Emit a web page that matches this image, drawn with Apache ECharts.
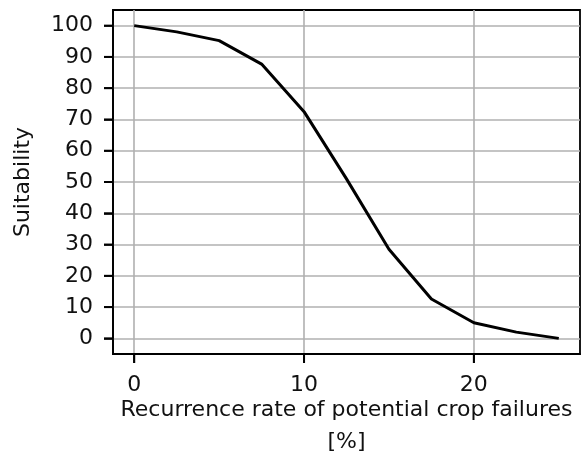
<!DOCTYPE html>
<html>
<head>
<meta charset="utf-8">
<script src="https://cdn.jsdelivr.net/npm/echarts@6/dist/echarts.min.js"></script>
<style>
  html, body { margin: 0; padding: 0; background: #fff; }
  #chart { width: 582px; height: 455px; }
</style>
</head>
<body>
<div id="chart"></div>
<script>
// Suitability as a function of the recurrence rate of potential crop failures
const recurrenceRate = [0, 2.5, 5, 7.5, 10, 12.5, 15, 17.5, 20, 22.5, 25];
const suitability = [100, 98, 95.2, 87.7, 72.5, 51, 28.5, 12.6, 5, 2, 0];
const xTicks = [0, 10, 20];
const yTicks = [0, 10, 20, 30, 40, 50, 60, 70, 80, 90, 100];
const xRange = [-1.25, 26.25];
const yRange = [-5, 105];

const font = 'DejaVu Sans';
const fs = 22;
const textColor = '#111';
const tickLen = 9;
const tickW = 2;
const chart = echarts.init(document.getElementById('chart'), null, { renderer: 'canvas' });

chart.setOption({
  animation: false,
  backgroundColor: '#fff',
  grid: {
    left: 113, top: 10, right: 2, bottom: 101,
    containLabel: false,
    outerBoundsMode: 'none',
    show: true, borderColor: '#000', borderWidth: 1.8, backgroundColor: 'transparent'
  },
  xAxis: {
    type: 'value',
    min: xRange[0], max: xRange[1],
    axisLine: { show: true, onZero: false, lineStyle: { color: '#000', width: 1.8 } },
    axisTick: { show: true, customValues: xTicks, length: tickLen, inside: false, lineStyle: { color: '#000', width: 1.6 } },
    axisLabel: { customValues: xTicks, margin: 20, fontFamily: font, fontSize: fs, color: textColor },
    splitLine: { show: true, lineStyle: { color: '#b0b0b0', width: 1.6 } },
    name: 'Recurrence rate of potential crop failures\n[%]',
    nameLocation: 'middle',
    nameGap: 40,
    nameMoveOverlap: false,
    nameTextStyle: { fontFamily: font, fontSize: fs, color: textColor, lineHeight: 32, verticalAlign: 'top' }
  },
  yAxis: {
    type: 'value',
    min: yRange[0], max: yRange[1],
    axisLine: { show: true, onZero: false, lineStyle: { color: '#000', width: 1.8 } },
    axisTick: { show: true, customValues: yTicks, length: tickLen, inside: false, lineStyle: { color: '#000', width: 1.6 } },
    axisLabel: { customValues: yTicks, margin: 20, fontFamily: font, fontSize: fs, color: textColor },
    splitLine: { show: true, lineStyle: { color: '#b0b0b0', width: 1.6 } },
    name: 'Suitability',
    nameLocation: 'middle',
    nameGap: 79,
    nameMoveOverlap: false,
    nameRotate: 90,
    nameTextStyle: { fontFamily: font, fontSize: fs, color: textColor }
  },
  series: [{
    type: 'line',
    data: recurrenceRate.map((x, i) => [x, suitability[i]]),
    showSymbol: false,
    lineStyle: { color: '#000', width: 3 },
    clip: false
  }]
});

// outward tick marks as small filled bars, positioned through the grid's own scales
const tickMarks = [];
xTicks.forEach(v => {
  const p = chart.convertToPixel({ gridIndex: 0 }, [v, yRange[0]]);
  tickMarks.push({ type: 'rect', silent: true, z: 100,
    shape: { x: p[0] - tickW / 2, y: p[1], width: tickW, height: tickLen },
    style: { fill: '#000' } });
});
yTicks.forEach(v => {
  const p = chart.convertToPixel({ gridIndex: 0 }, [xRange[0], v]);
  tickMarks.push({ type: 'rect', silent: true, z: 100,
    shape: { x: p[0] - tickLen, y: p[1] - tickW / 2, width: tickLen, height: tickW },
    style: { fill: '#000' } });
});
chart.setOption({ graphic: { elements: tickMarks } });
</script>
</body>
</html>
